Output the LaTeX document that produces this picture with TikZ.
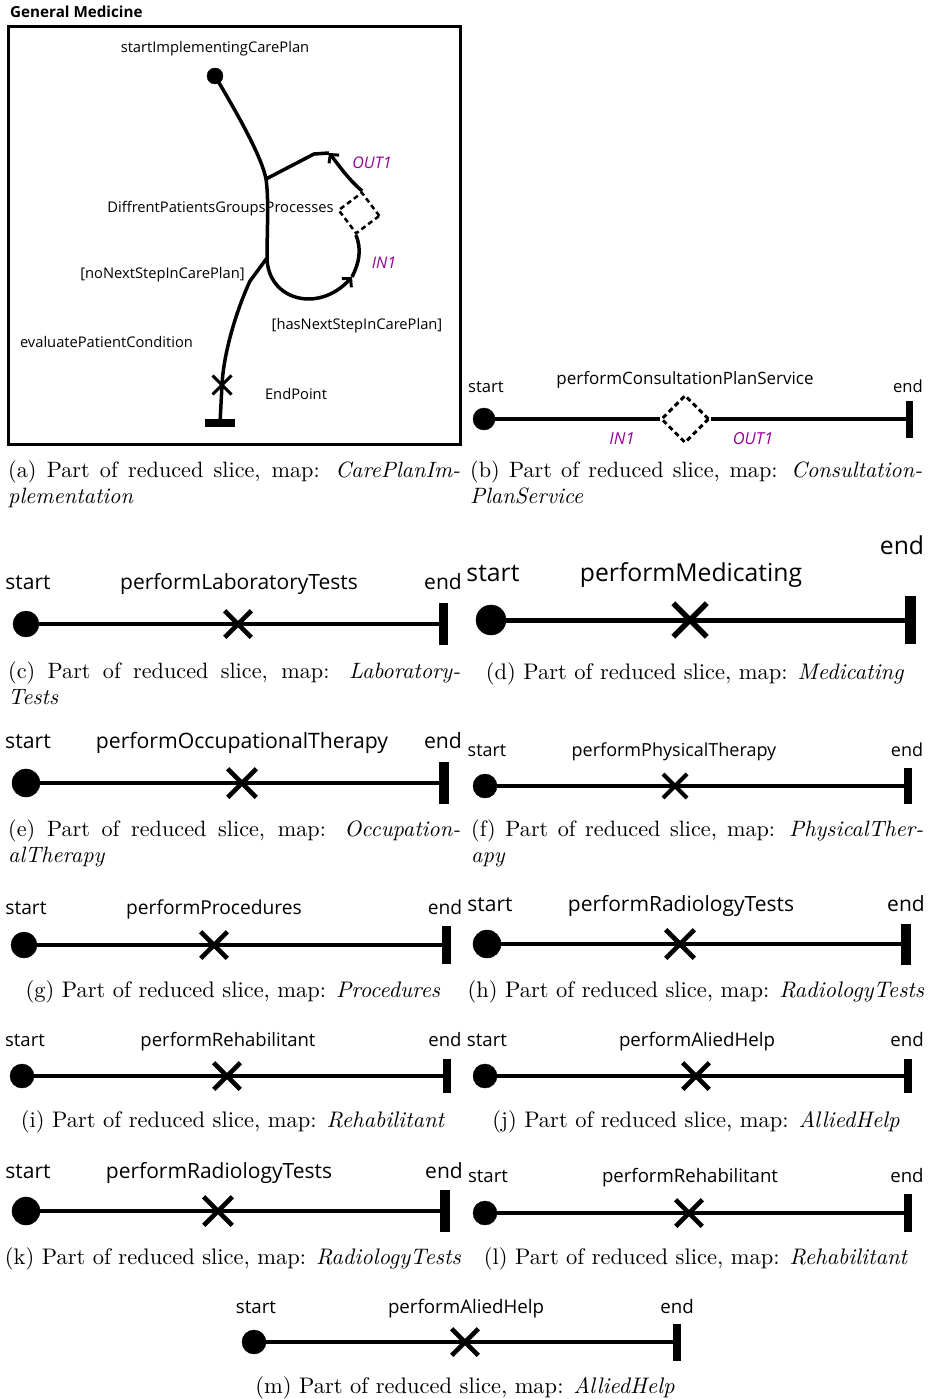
\documentclass[tikz,border=0pt]{standalone}
\usepackage{fontspec}
\setsansfont{Open Sans}
\usepackage{graphicx}
\usetikzlibrary{shapes.geometric,shapes.misc,arrows.meta}
\definecolor{inout}{RGB}{153,0,153}
\newcommand\fsz[1]{\fontsize{#1}{#1}\selectfont}
\newcommand\capline[1]{\scalebox{2.25}{\fontsize{10}{11.7}\selectfont #1}}
\newcommand\captwo[1]{\scalebox{2.22}{\parbox[t]{203.6pt}{\fontsize{10}{11.7}\selectfont #1}}}
\begin{document}
\begin{tikzpicture}[x=1pt,y=-1pt,
  lab/.style={anchor=base, inner sep=0pt, font=\sffamily\fsz{#1}},
  io/.style={anchor=base, inner sep=0pt, font=\sffamily\itshape\fsz{#1}, text=inout},
  startdot/.style={circle, fill=black, draw=black, inner sep=0pt, minimum size=#1},
  xmark/.style={cross out, draw=black, inner sep=0pt, minimum size=#1, line width=4.6pt},
  endbar/.style 2 args={rectangle, fill=black, inner sep=0pt, minimum width=#1, minimum height=#2},
  flow/.style={line width=#1, line join=round},
  gate/.style={diamond, draw=black, dash pattern=on 5pt off 3.5pt, line width=#1, inner sep=0pt, aspect=1},
  captl/.style={inner sep=0pt, anchor=north west},
  captc/.style={inner sep=0pt, anchor=north},
  barb/.style={-{Straight Barb[length=6pt,width=13pt,line width=3pt]}}
]
\useasboundingbox (0,0) rectangle (928,1399);

% ---------------- (a)
\node[anchor=base west, inner sep=0pt, font=\sffamily\bfseries\fsz{15.2}] (a-title) at (10,17.5) {General Medicine};
\draw[line width=3pt] (8,27) rectangle (460,444);
\node[lab=14.7] (a-t1) at (215,53) {startImplementingCarePlan};
\node[lab=14.7] (a-t2) at (220.5,212) {DiffrentPatientsGroupsProcesses};
\node[lab=14.7] (a-t3) at (162.5,278) {[noNextStepInCarePlan]};
\node[lab=14.7] (a-t4) at (357,329) {[hasNextStepInCarePlan]};
\node[lab=14.7] (a-t5) at (106.5,347) {evaluatePatientCondition};
\node[lab=14.7] (a-t6) at (296,399) {EndPoint};
\node[io=16] (a-out) at (372,168.5) {OUT1};
\node[io=16] (a-in) at (384,268.5) {IN1};
\node[startdot=16] (a-s) at (215,76) {};
\node[gate=2.5pt, minimum size=42pt, rotate=-8] (a-d) at (359,213) {};
\node[xmark=16, line width=3pt] (a-x) at (222,385) {};
\node[endbar={30}{8}] (a-e) at (220,423) {};
\coordinate (a-j1) at (266,179);
\coordinate (a-j2) at (267,258);
\coordinate (a-top) at (329,153);
\coordinate (a-bot) at (352,277);
\draw[flow=3.5pt] (a-s.center) .. controls (240,118) and (262,158) .. (a-j1)
  .. controls (269,200) and (267,230) .. (a-j2) -- (250,281)
  .. controls (233,318) and (223,360) .. (a-x.center) -- (a-e.center);
\draw[flow=3.5pt, barb] (a-d.north) .. controls (347,178) and (338,164) .. (a-top);
\draw[flow=3.5pt] (a-top) -- (314,154) -- (a-j1);
\draw[flow=3.5pt, barb] (a-j2) .. controls (268,300) and (318,314) .. (a-bot);
\draw[flow=3.5pt] (a-bot) .. controls (359,263) and (362,250) .. (a-d.south);
\node[captl] (a-cap) at (8,461) {\captwo{(a) Part of reduced slice, map: \textit{CarePlanIm-}\linebreak\textit{plementation}}};

% ---------------- (b)
\node[startdot=22] (b-s) at (484,419) {};
\node[gate=3pt, minimum size=48pt] (b-d) at (685,419) {};
\node[endbar={7}{37}] (b-e) at (909,419) {};
\draw[flow=4pt] (b-s.center) -- (b-d.west);
\draw[flow=4pt] (b-d.east) -- (b-e.center);
\node[lab=16.6] (b-t1) at (486,392) {start};
\node[lab=17] (b-t2) at (685,384) {performConsultationPlanService};
\node[lab=16.6] (b-t3) at (908,392) {end};
\node[io=16.5] (b-in) at (622,444) {IN1};
\node[io=16.5] (b-out) at (753,444) {OUT1};
\node[captl] (b-cap) at (470,461) {\captwo{(b) Part of reduced slice, map: \textit{Consultation-}\linebreak\textit{PlanService}}};

% ---------------- (c)
\node[startdot=26] (c-s) at (26,624) {};
\node[xmark=22] (c-x) at (238,624) {};
\node[endbar={9}{42}] (c-e) at (443,624) {};
\draw[flow=4.5pt] (c-s.center) -- (c-x.center) -- (c-e.center);
\node[lab=21] (c-t1) at (28,589) {start};
\node[lab=21] (c-t2) at (239,589) {performLaboratoryTests};
\node[lab=21] (c-t3) at (443,589) {end};
\node[captl] (c-cap) at (8,662) {\captwo{(c) Part of reduced slice, map: \textit{Laboratory-}\linebreak\textit{Tests}}};

% ---------------- (d)
\node[startdot=30] (d-s) at (491,620) {};
\node[xmark=28, line width=5.5pt] (d-x) at (690,620) {};
\node[endbar={11}{48}] (d-e) at (910,620) {};
\draw[flow=5pt] (d-s.center) -- (d-x.center) -- (d-e.center);
\node[lab=24.7] (d-t1) at (493,581) {start};
\node[lab=24.7] (d-t2) at (691,581) {performMedicating};
\node[lab=24.7] (d-t3) at (902,554) {end};
\node[captc] (d-cap) at (695,662) {\capline{(d) Part of reduced slice, map: \textit{Medicating}}};

% ---------------- (e)
\node[startdot=28] (e-s) at (26,783) {};
\node[xmark=24] (e-x) at (242,783) {};
\node[endbar={10}{42}] (e-e) at (444,783) {};
\draw[flow=4.5pt] (e-s.center) -- (e-x.center) -- (e-e.center);
\node[lab=21.2] (e-t1) at (28,748) {start};
\node[lab=21.2] (e-t2) at (242,748) {performOccupationalTherapy};
\node[lab=21.2] (e-t3) at (443,748) {end};
\node[captl] (e-cap) at (8,820) {\captwo{(e) Part of reduced slice, map: \textit{Occupation-}\linebreak\textit{alTherapy}}};

% ---------------- (f)
\node[startdot=24] (f-s) at (485,786) {};
\node[xmark=20, line width=4pt] (f-x) at (675,786) {};
\node[endbar={8}{36}] (f-e) at (908,786) {};
\draw[flow=4pt] (f-s.center) -- (f-x.center) -- (f-e.center);
\node[lab=18] (f-t1) at (487,756) {start};
\node[lab=18] (f-t2) at (674,756) {performPhysicalTherapy};
\node[lab=18] (f-t3) at (907,756) {end};
\node[captl] (f-cap) at (471,820) {\captwo{(f) Part of reduced slice, map: \textit{PhysicalTher-}\linebreak\textit{apy}}};

% ---------------- (g)
\node[startdot=26] (g-s) at (24,945) {};
\node[xmark=22] (g-x) at (214,945) {};
\node[endbar={9}{38}] (g-e) at (446,945) {};
\draw[flow=4.5pt] (g-s.center) -- (g-x.center) -- (g-e.center);
\node[lab=19.2] (g-t1) at (26,914.5) {start};
\node[lab=19.2] (g-t2) at (214,914.5) {performProcedures};
\node[lab=19.2] (g-t3) at (445,914.5) {end};
\node[captc] (g-cap) at (233,980.5) {\capline{(g) Part of reduced slice, map: \textit{Procedures}}};

% ---------------- (h)
\node[startdot=28] (h-s) at (487,944) {};
\node[xmark=24] (h-x) at (680,944) {};
\node[endbar={10}{41}] (h-e) at (906,944) {};
\draw[flow=4.5pt] (h-s.center) -- (h-x.center) -- (h-e.center);
\node[lab=21] (h-t1) at (490,911) {start};
\node[lab=21] (h-t2) at (681,911) {performRadiologyTests};
\node[lab=21] (h-t3) at (906,911) {end};
\node[captc] (h-cap) at (696,980.5) {\capline{(h) Part of reduced slice, map: \textit{RadiologyTests}}};

% ---------------- (i)
\node[startdot=24] (i-s) at (22,1076) {};
\node[xmark=22] (i-x) at (227,1076) {};
\node[endbar={8}{34}] (i-e) at (447,1076) {};
\draw[flow=4pt] (i-s.center) -- (i-x.center) -- (i-e.center);
\node[lab=18.5] (i-t1) at (25,1046) {start};
\node[lab=18.5] (i-t2) at (228,1046) {performRehabilitant};
\node[lab=18.5] (i-t3) at (445,1046) {end};
\node[captc] (i-cap) at (233,1110.5) {\capline{(i) Part of reduced slice, map: \textit{Rehabilitant}}};

% ---------------- (j)
\node[startdot=24] (j-s) at (485,1076) {};
\node[xmark=22] (j-x) at (696,1076) {};
\node[endbar={8}{34}] (j-e) at (908,1076) {};
\draw[flow=4pt] (j-s.center) -- (j-x.center) -- (j-e.center);
\node[lab=18.7] (j-t1) at (487,1046) {start};
\node[lab=18.7] (j-t2) at (697,1046) {performAliedHelp};
\node[lab=18.7] (j-t3) at (907,1046) {end};
\node[captc] (j-cap) at (696,1110.5) {\capline{(j) Part of reduced slice, map: \textit{AlliedHelp}}};

% ---------------- (k)
\node[startdot=28] (k-s) at (26,1211) {};
\node[xmark=24] (k-x) at (218,1211) {};
\node[endbar={10}{42}] (k-e) at (445,1211) {};
\draw[flow=4.5pt] (k-s.center) -- (k-x.center) -- (k-e.center);
\node[lab=21] (k-t1) at (28,1178) {start};
\node[lab=21] (k-t2) at (219,1178) {performRadiologyTests};
\node[lab=21] (k-t3) at (444,1178) {end};
\node[captc] (k-cap) at (233,1247.5) {\capline{(k) Part of reduced slice, map: \textit{RadiologyTests}}};

% ---------------- (l)
\node[startdot=24] (l-s) at (485,1213) {};
\node[xmark=22] (l-x) at (689,1213) {};
\node[endbar={8}{38}] (l-e) at (908,1213) {};
\draw[flow=4pt] (l-s.center) -- (l-x.center) -- (l-e.center);
\node[lab=18.6] (l-t1) at (488,1182) {start};
\node[lab=18.6] (l-t2) at (690,1182) {performRehabilitant};
\node[lab=18.6] (l-t3) at (907,1182) {end};
\node[captc] (l-cap) at (696,1247.5) {\capline{(l) Part of reduced slice, map: \textit{Rehabilitant}}};

% ---------------- (m)
\node[startdot=24] (m-s) at (254,1342) {};
\node[xmark=22] (m-x) at (465,1342) {};
\node[endbar={8}{37}] (m-e) at (677,1342) {};
\draw[flow=4pt] (m-s.center) -- (m-x.center) -- (m-e.center);
\node[lab=18.7] (m-t1) at (256,1313) {start};
\node[lab=18.7] (m-t2) at (466,1313) {performAliedHelp};
\node[lab=18.7] (m-t3) at (677,1313) {end};
\node[captc] (m-cap) at (465,1376.5) {\capline{(m) Part of reduced slice, map: \textit{AlliedHelp}}};
\end{tikzpicture}
\end{document}
